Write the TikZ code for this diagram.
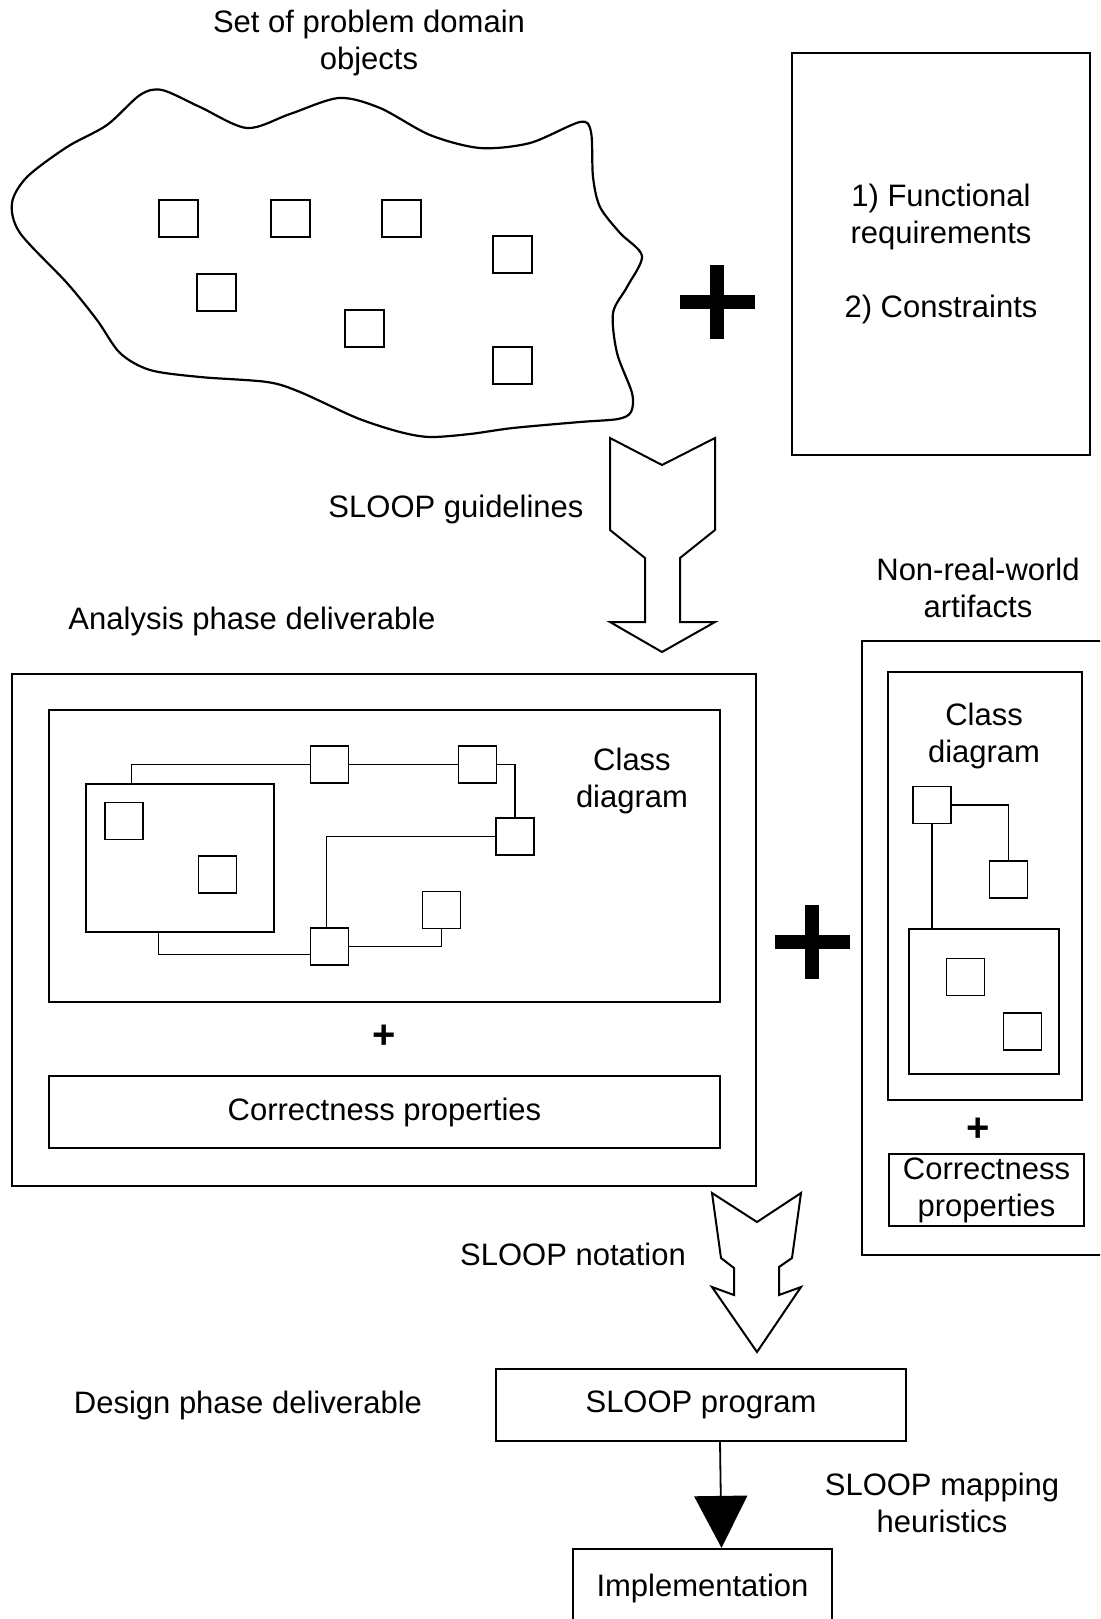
\documentclass[tikz,border=0pt]{standalone}
\usepackage{fontspec}
\setmainfont{Liberation Sans}
\usetikzlibrary{arrows.meta}
\begin{document}
\begin{tikzpicture}[x=1pt,y=-1pt,
  lbl/.style={font=\fontsize{31}{37}\selectfont, align=center, inner sep=0pt},
  box/.style={draw, line width=2.2pt, inner sep=0pt, font=\fontsize{31}{37}\selectfont, align=center},
  obj/.style={draw, line width=2pt, minimum width=39pt, minimum height=37pt, inner sep=0pt},
  cls/.style={draw, line width=1.8pt, minimum width=38pt, minimum height=37pt, inner sep=0pt},
  link/.style={line width=1.2pt},
  hollow/.style={draw, line width=2pt, line join=miter, fill=white},
  smallplus/.style={font=\fontsize{40}{40}\selectfont\bfseries, inner sep=0pt},
]
\useasboundingbox (0,0) rectangle (1100,1619);
\clip (0,0) rectangle (1100,1619);

% ---------- top: problem domain objects ----------
\node[lbl] (settitle) at (369,43) {Set of problem domain\\objects};
\draw[line width=2.2pt] plot[smooth cycle, tension=0.5] coordinates {
 (107,125) (140,95) (162,90) (200,107) (247,128) (290,114) (339,98)
 (380,108) (430,135) (480,148) (530,143) (580,122) (591,132) (593,177)
 (600,207) (620,233) (642,256) (627,287) (613,313) (617,353) (632,393)
 (631,412) (618,419) (580,422) (513,428) (470,434) (430,437) (400,432)
 (357,418) (300,392) (267,382) (200,377) (150,370) (120,353) (97,320)
 (67,283) (20,233) (12,203) (27,177) (67,147)};
\node[obj] (o1) at (178,218) {};
\node[obj] (o2) at (290,218) {};
\node[obj] (o3) at (401,218) {};
\node[obj] (o4) at (512,254) {};
\node[obj] (o5) at (216,292) {};
\node[obj] (o6) at (364,328) {};
\node[obj] (o7) at (512,365) {};

% big plus
\fill (680,295) rectangle (755,309);
\fill (710,265) rectangle (724,339);

% requirements box
\node[box, minimum width=298pt, minimum height=402pt] (req) at (941,254)
  {1) Functional\\requirements\\[37pt]2) Constraints};

% SLOOP guidelines arrow
\draw[hollow] (610,438) -- (662,465) -- (715,438) -- (715,530) -- (680,558)
  -- (680,622) -- (715,622) -- (662,652) -- (610,622) -- (645,622)
  -- (645,558) -- (610,530) -- cycle;
\node[lbl] (guide) at (456,509) {SLOOP guidelines};

% ---------- analysis phase ----------
\node[lbl] (anatitle) at (252,621) {Analysis phase deliverable};
\node[box, minimum width=744pt, minimum height=512pt] (ana) at (384,930) {};
\node[box, minimum width=671pt, minimum height=292pt] (cd) at (384.5,856) {};
\node[lbl] (cdlbl) at (632,781) {Class\\diagram};

\node[cls, minimum width=188pt, minimum height=148pt] (bigL) at (180,858) {};
\node[cls] (ia) at (124,821) {};
\node[cls] (ib) at (217.5,874.5) {};
\node[cls] (s1) at (329.5,764.5) {};
\node[cls] (s2) at (477.5,764.5) {};
\node[cls] (s3) at (515,836.5) {};
\node[cls] (s4) at (329.5,946.5) {};
\node[cls] (s5) at (441.5,910) {};

\draw[link] ([xshift=46pt]bigL.north west) |- (s1.west);
\draw[link] (s1.east) -- (s2.west);
\draw[link] (s2.east) -| (s3.north);
\draw[link] (s3.west) -| ([xshift=-3pt]s4.north);
\draw[link] ([xshift=73pt]bigL.south west) |- ([yshift=-8pt]s4.west);
\draw[link] (s4.east) -| (s5.south);

\node[smallplus] (plusA) at (384,1037) {+};
\node[box, minimum width=671pt, minimum height=72pt] (corr) at (384.5,1112) {Correctness properties};

% middle big plus
\fill (775,935) rectangle (850,949);
\fill (805,905) rectangle (819,979);

% ---------- non-real-world artifacts ----------
\node[lbl] (nrwtitle) at (978,588) {Non-real-world\\artifacts};
\node[box, minimum width=258pt, minimum height=614pt] (nrw) at (991,948) {};
\node[box, minimum width=194pt, minimum height=428pt] (cd2) at (985,886) {};
\node[lbl] (cd2lbl) at (984,736) {Class\\diagram};
\node[cls] (sA) at (932,805) {};
\node[cls] (sB) at (1008.5,879.5) {};
\node[cls, minimum width=150pt, minimum height=145pt] (bigR) at (984,1001.5) {};
\node[cls] (sC) at (965.5,977) {};
\node[cls] (sD) at (1022.5,1031.5) {};
\draw[link] (sA.east) -| (sB.north);
\draw[link] (sA.south) -- (sA.south |- bigR.north);
\node[smallplus] (plusB) at (978,1130) {+};
\node[box, minimum width=195pt, minimum height=72pt] (corr2) at (986.5,1190) {Correctness\\properties};

% ---------- SLOOP notation arrow ----------
\draw[hollow] (712,1193) -- (757,1222) -- (801,1193) -- (792,1258) -- (779,1267)
  -- (779,1295) -- (801,1287) -- (757,1352) -- (712,1287) -- (734,1295)
  -- (734,1268) -- (721,1258) -- cycle;
\node[lbl] (notation) at (573,1254) {SLOOP notation};

% ---------- design phase ----------
\node[lbl] (destitle) at (248,1405) {Design phase deliverable};
\node[box, minimum width=410pt, minimum height=72pt] (prog) at (701,1405) {SLOOP program};
\node[box, minimum width=259pt, minimum height=78pt] (impl) at (702.5,1588) {Implementation};
\draw[line width=1.8pt, -{Triangle[length=52pt,width=53pt]}]
  ([xshift=19pt]prog.south) -- ([xshift=19pt]impl.north);
\node[lbl] (mapping) at (942,1503) {SLOOP mapping\\heuristics};

\end{tikzpicture}
\end{document}
